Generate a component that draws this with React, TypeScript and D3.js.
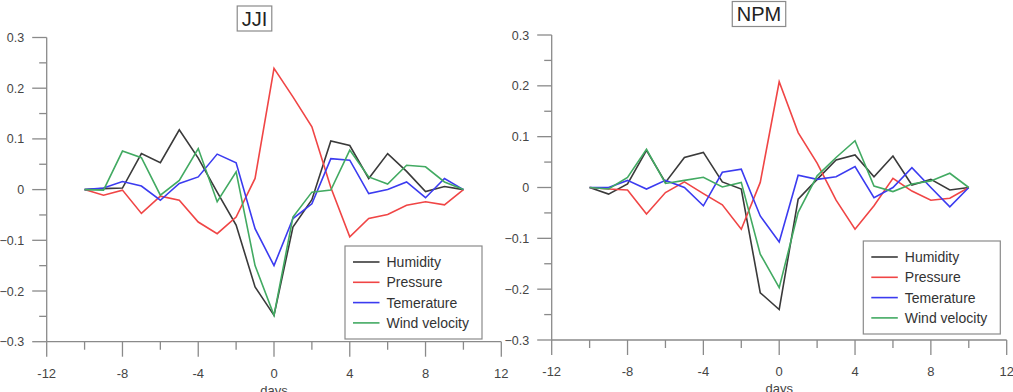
import { useEffect, useRef } from "react";
import * as d3 from "d3";

const WIDTH = 1013;
const HEIGHT = 392;

const DAYS = [-10, -9, -8, -7, -6, -5, -4, -3, -2, -1, 0, 1, 2, 3, 4, 5, 6, 7, 8, 9, 10];
const X_TICKS = [-12, -8, -4, 0, 4, 8, 12];
const X_MINOR = [-10, -6, -2, 2, 6, 10];
const Y_TICKS = [-0.3, -0.2, -0.1, 0, 0.1, 0.2, 0.3];
const Y_MINOR = [-0.25, -0.15, -0.05, 0.05, 0.15, 0.25];

const SERIES_NAMES = ["Humidity", "Pressure", "Temerature", "Wind velocity"];

// JJI station
const JJI_HUMIDITY = [0, 0.002, 0.003, 0.071, 0.053, 0.118, 0.062, -0.005, -0.07, -0.192, -0.248, -0.074, -0.02, 0.096, 0.087, 0.022, 0.071, 0.036, -0.004, 0.006, 0];
const JJI_PRESSURE = [0, -0.011, -0.001, -0.047, -0.013, -0.021, -0.064, -0.087, -0.054, 0.022, 0.239, 0.183, 0.124, 0.004, -0.093, -0.057, -0.049, -0.031, -0.024, -0.03, 0];
const JJI_TEMPERATURE = [0, 0.003, 0.016, 0.007, -0.021, 0.012, 0.025, 0.07, 0.053, -0.077, -0.15, -0.057, -0.028, 0.061, 0.058, -0.008, 0, 0.015, -0.016, 0.022, 0];
const JJI_WIND = [0, -0.001, 0.076, 0.063, -0.011, 0.018, 0.081, -0.024, 0.035, -0.15, -0.248, -0.054, -0.005, -0.001, 0.078, 0.025, 0.011, 0.048, 0.045, 0.015, 0];

// NPM station
const NPM_HUMIDITY = [0, -0.013, 0.007, 0.073, 0.01, 0.059, 0.069, 0.011, -0.003, -0.207, -0.24, -0.023, 0.016, 0.054, 0.064, 0.021, 0.062, 0.005, 0.016, -0.005, 0];
const NPM_PRESSURE = [0, -0.003, -0.005, -0.052, -0.01, 0.011, -0.012, -0.034, -0.082, 0.01, 0.208, 0.108, 0.048, -0.025, -0.082, -0.036, 0.018, -0.007, -0.025, -0.021, 0];
const NPM_TEMPERATURE = [0, 0, 0.014, -0.003, 0.014, 0, -0.036, 0.03, 0.036, -0.056, -0.107, 0.024, 0.016, 0.021, 0.041, -0.02, 0, 0.039, 0, -0.038, 0];
const NPM_WIND = [0, -0.003, 0.02, 0.075, 0.008, 0.014, 0.02, 0.001, 0.01, -0.131, -0.197, -0.049, 0.023, 0.059, 0.092, 0.003, -0.008, 0.007, 0.013, 0.028, 0];

const COLORS = {
  series: ["#3a3a3a", "#f04545", "#3b3bf0", "#42aa62"],
  axis: "#8a8a8a",
  label: "#454545",
  title: "#222",
};

const FONT = "Liberation Sans, Arial, sans-serif";

interface Panel {
  title: string;
  values: number[][];
  x0: number;
  x1: number;
  y0: number; // pixel of -0.3
  y1: number; // pixel of 0.3
  titleCx: number;
  titleCy: number;
  legend: { x: number; y: number; w: number; h: number };
}

const PANELS: Panel[] = [
  {
    title: "JJI",
    values: [JJI_HUMIDITY, JJI_PRESSURE, JJI_TEMPERATURE, JJI_WIND],
    x0: 46.7, x1: 501.3, y0: 341.7, y1: 37.5,
    titleCx: 254.5, titleCy: 18.5,
    legend: { x: 345, y: 246, w: 137, h: 93 },
  },
  {
    title: "NPM",
    values: [NPM_HUMIDITY, NPM_PRESSURE, NPM_TEMPERATURE, NPM_WIND],
    x0: 551.7, x1: 1006.7, y0: 340, y1: 35,
    titleCx: 759, titleCy: 14,
    legend: { x: 863.3, y: 241, w: 137, h: 93 },
  },
];

function fmtY(v: number): string {
  if (Math.abs(v) < 1e-9) return "0";
  return d3.format(".1f")(v);
}

export default function App() {
  const svgRef = useRef<SVGSVGElement>(null);

  useEffect(() => {
    if (!svgRef.current) return;
    const svg = d3.select(svgRef.current);
    svg.selectAll("*").remove();

    svg.append("rect").attr("width", WIDTH).attr("height", HEIGHT).attr("fill", "#fff");

    PANELS.forEach((p) => {
      const x = d3.scaleLinear().domain([-12, 12]).range([p.x0, p.x1]);
      const y = d3.scaleLinear().domain([-0.3, 0.3]).range([p.y0, p.y1]);
      const g = svg.append("g");

      // ---- axes ----
      const axis = g.append("g")
        .attr("stroke", COLORS.axis)
        .attr("stroke-width", 1.3)
        .attr("fill", "none");

      axis.append("line")
        .attr("x1", x(-12)).attr("x2", x(-12))
        .attr("y1", y(-0.3)).attr("y2", y(0.3));
      axis.append("line")
        .attr("x1", x(-12)).attr("x2", x(12))
        .attr("y1", y(-0.3)).attr("y2", y(-0.3));

      Y_TICKS.forEach((t) => {
        axis.append("line")
          .attr("x1", x(-12) - 14.5).attr("x2", x(-12))
          .attr("y1", y(t)).attr("y2", y(t));
      });
      Y_MINOR.forEach((t) => {
        axis.append("line")
          .attr("x1", x(-12) - 7.5).attr("x2", x(-12))
          .attr("y1", y(t)).attr("y2", y(t));
      });
      X_TICKS.forEach((t) => {
        axis.append("line")
          .attr("x1", x(t)).attr("x2", x(t))
          .attr("y1", y(-0.3)).attr("y2", y(-0.3) + 15);
      });
      X_MINOR.forEach((t) => {
        axis.append("line")
          .attr("x1", x(t)).attr("x2", x(t))
          .attr("y1", y(-0.3)).attr("y2", y(-0.3) + 8);
      });

      // tick labels
      Y_TICKS.forEach((t) => {
        g.append("text")
          .attr("x", x(-12) - 22.5)
          .attr("y", y(t))
          .attr("dy", "0.36em")
          .attr("text-anchor", "end")
          .attr("font-family", FONT)
          .attr("font-size", 12.5)
          .attr("fill", COLORS.label)
          .text(fmtY(t));
      });
      X_TICKS.forEach((t) => {
        g.append("text")
          .attr("x", x(t))
          .attr("y", y(-0.3) + 36)
          .attr("text-anchor", "middle")
          .attr("font-family", FONT)
          .attr("font-size", 13)
          .attr("fill", COLORS.label)
          .text(String(t));
      });
      g.append("text")
        .attr("x", x(0))
        .attr("y", y(-0.3) + 53)
        .attr("text-anchor", "middle")
        .attr("font-family", FONT)
        .attr("font-size", 13)
        .attr("fill", COLORS.label)
        .text("days");

      // ---- series lines ----
      const line = d3.line<number>()
        .x((_, i) => x(DAYS[i]))
        .y((v) => y(v));

      p.values.forEach((vals, si) => {
        g.append("path")
          .datum(vals)
          .attr("d", line)
          .attr("fill", "none")
          .attr("stroke", COLORS.series[si])
          .attr("stroke-width", 1.6)
          .attr("stroke-linejoin", "miter");
      });

      // ---- legend ----
      const lg = g.append("g").attr("transform", `translate(${p.legend.x},${p.legend.y})`);
      lg.append("rect")
        .attr("width", p.legend.w)
        .attr("height", p.legend.h)
        .attr("fill", "#fff")
        .attr("stroke", COLORS.axis)
        .attr("stroke-width", 1.2);
      SERIES_NAMES.forEach((name, i) => {
        const ry = 16 + i * 20.3;
        lg.append("line")
          .attr("x1", 8).attr("x2", 34.5)
          .attr("y1", ry).attr("y2", ry)
          .attr("stroke", COLORS.series[i])
          .attr("stroke-width", 1.6);
        lg.append("text")
          .attr("x", 41.5)
          .attr("y", ry)
          .attr("dy", "0.35em")
          .attr("font-family", FONT)
          .attr("font-size", 14)
          .attr("fill", "#333")
          .text(name);
      });

      // ---- boxed title ----
      const title = g.append("text")
        .attr("x", p.titleCx)
        .attr("y", p.titleCy)
        .attr("dy", "0.36em")
        .attr("text-anchor", "middle")
        .attr("font-family", FONT)
        .attr("font-size", 20)
        .attr("fill", COLORS.title)
        .text(p.title);
      const bb = (title.node() as SVGTextElement).getBBox();
      g.insert("rect", "text")
        .attr("x", bb.x - 4.5)
        .attr("y", p.titleCy - 12.5)
        .attr("width", bb.width + 9)
        .attr("height", 25)
        .attr("fill", "#fff")
        .attr("stroke", COLORS.axis)
        .attr("stroke-width", 1.2);
    });
  }, []);

  return (
    <svg
      ref={svgRef}
      width={WIDTH}
      height={HEIGHT}
      style={{ position: "absolute", left: 0, top: 0, display: "block" }}
    />
  );
}
